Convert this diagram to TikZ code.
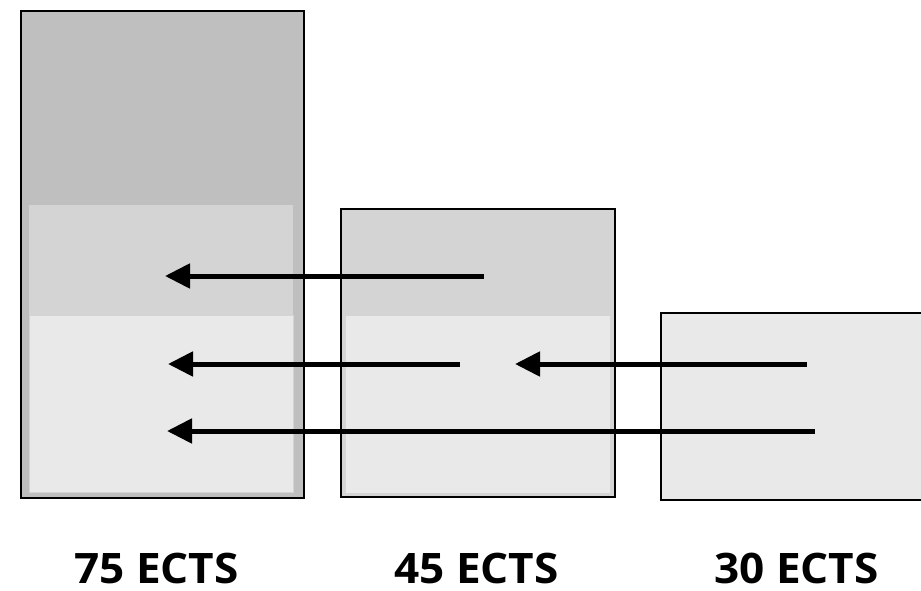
\documentclass[tikz,border=0pt]{standalone}
\usepackage{fontspec}
\setmainfont{Open Sans}
\usetikzlibrary{arrows.meta}
\definecolor{gdark}{HTML}{BFBFBF}
\definecolor{gmid}{HTML}{D4D4D4}
\definecolor{glight}{HTML}{E9E9E9}
\tikzset{
  box/.style={draw=black, line width=2.2pt, rectangle, inner sep=0pt, outer sep=0pt},
  band/.style={draw=none, rectangle, inner sep=0pt, outer sep=0pt},
  flow/.style={line width=5pt, -{Triangle[length=25pt,width=24pt]}},
  lbl/.style={font=\bfseries\fontsize{42}{50}\selectfont, anchor=base, inner sep=0pt, text depth=0pt, text height=31pt, xscale=1.05}
}
\begin{document}
\begin{tikzpicture}[x=1pt,y=-1pt]
\clip (0,0) rectangle (921,591);
\fill[white] (0,0) rectangle (921,591);
% box 1
\node[box, fill=gdark, minimum width=283pt, minimum height=487pt] (b1) at (162.5,254.5) {};
\node[band, fill=gmid, minimum width=264pt, minimum height=110pt] (b1m) at (161,260) {};
\node[band, fill=glight, minimum width=264pt, minimum height=177pt, draw=gmid, line width=0.8pt] (b1l) at (161,403.5) {};
% box 2
\node[box, fill=gmid, minimum width=274pt, minimum height=288pt] (b2) at (478,353) {};
\node[band, fill=glight, minimum width=265pt, minimum height=178pt, draw=gmid, line width=0.8pt] (b2l) at (477.5,404) {};
% box 3
\node[box, fill=glight, minimum width=270pt, minimum height=187pt] (b3) at (796,406.5) {};
% arrows
\coordinate (a1s) at (484,276);
\coordinate (a1e) at (165,276);
\coordinate (a2s) at (460,364);
\coordinate (a2e) at (168,364);
\coordinate (a3s) at (815,431);
\coordinate (a3e) at (167,431);
\coordinate (a4s) at (807,364);
\coordinate (a4e) at (515,364);
\draw[flow] (a1s) -- (a1e);
\draw[flow] (a2s) -- (a2e);
\draw[flow] (a3s) -- (a3e);
\draw[flow] (a4s) -- (a4e);
% labels
\node[lbl] (l1) at (156.5,583) {75 ECTS};
\node[lbl] (l2) at (476.5,583) {45 ECTS};
\node[lbl] (l3) at (796.5,583) {30 ECTS};
\end{tikzpicture}
\end{document}
